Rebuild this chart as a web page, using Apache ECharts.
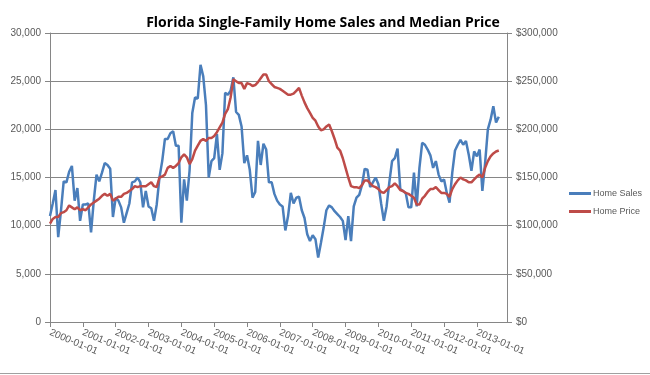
<!DOCTYPE html>
<html>
<head>
<meta charset="utf-8">
<script src="https://cdn.jsdelivr.net/npm/echarts@6/dist/echarts.min.js"></script>
<style>
  html, body { margin: 0; padding: 0; background: #fff; }
  #home-chart { width: 650px; height: 375px; }
</style>
</head>
<body>
<div id="home-chart"></div>
<script>
// years on the category axis (monthly points, Jan 2000 .. Dec 2013)
const years = [2000, 2001, 2002, 2003, 2004, 2005, 2006, 2007, 2008, 2009, 2010, 2011, 2012, 2013]
const monthCodes = ['01', '02', '03', '04', '05', '06', '07', '08', '09', '10', '11', '12']

// monthly single-family home sales, Jan 2000 .. Sep 2013
const homeSales = [
  11000, 12300, 13700, 8800, 11500, 14600, 14500, 15600, 16200, 12600, 13900, 10500,
  12200, 12200, 12300, 9300, 12600, 15300, 14600, 15500, 16500, 16300, 15900, 10900,
  12900, 12600, 11900, 10300, 11300, 12300, 14500, 14600, 15000, 14500, 11900, 13600,
  12000, 11800, 10500, 12200, 15000, 16700, 19000, 19000, 19600, 19800, 18300, 18300,
  10300, 14800, 12600, 15700, 21700, 23300, 23200, 26700, 25500, 22500, 15000, 16700,
  17000, 19500, 15800, 17500, 23800, 23600, 24000, 25400, 21800, 21500, 20300, 16500,
  17300, 15800, 12900, 13500, 18800, 16300, 18500, 17900, 14500, 14500, 13300, 12600,
  12200, 12000, 9500, 11000, 13400, 12300, 12900, 13000, 11600, 10800, 9100, 8400,
  9000, 8600, 6700, 8200, 9800, 11600, 12100, 11900, 11500, 11200, 10900, 10500,
  8500, 11000, 8400, 12000, 12900, 13200, 14200, 15900, 15800, 14000, 14500, 15000,
  14300, 12300, 10500, 12000, 14500, 16700, 17000, 18000, 13800, 13600, 13400, 11900,
  11900, 15500, 12000, 16000, 18600, 18400, 17900, 17300, 16000, 16700, 15300, 14600,
  14800, 13400, 12400, 15500, 17800, 18400, 18900, 18400, 18800, 17400, 15700, 17700,
  17200, 17900, 13600, 16500, 20000, 21000, 22400, 20700, 21300
]

// monthly median price
const homePrice = [
  102000, 107000, 109000, 109000, 113000, 114000, 116000, 121000, 119000, 117000, 119000, 116000,
  117000, 116000, 119000, 122000, 124000, 126000, 128000, 131000, 133000, 131000, 133000, 126000,
  128000, 130000, 130000, 133000, 134000, 136000, 138000, 141000, 140000, 141000, 141000, 141000,
  143000, 145000, 141000, 140000, 150000, 151000, 153000, 160000, 162000, 160000, 162000, 165000,
  171000, 174000, 171000, 164000, 169000, 178000, 183000, 188000, 190000, 188000, 191000, 191000,
  193000, 197000, 202000, 207000, 216000, 221000, 233000, 252000, 250000, 248000, 248000, 242000,
  248000, 247000, 245000, 246000, 249000, 253000, 257000, 257000, 250000, 247000, 244000, 243000,
  242000, 240000, 238000, 236000, 236000, 237000, 240000, 243000, 235000, 228000, 222000, 217000,
  212000, 209000, 203000, 199000, 200000, 203000, 205000, 198000, 190000, 181000, 178000, 170000,
  160000, 150000, 141000, 140000, 140000, 139000, 142000, 147000, 147000, 144000, 141000, 140000,
  138000, 135000, 134000, 137000, 140000, 141000, 144000, 141000, 137000, 136000, 134000, 133000,
  131000, 129000, 122000, 122000, 128000, 131000, 135000, 138000, 138000, 140000, 137000, 134000,
  134000, 133000, 130000, 138000, 143000, 147000, 150000, 148000, 147000, 145000, 145000, 148000,
  151000, 153000, 150000, 160000, 167000, 172000, 175000, 177000, 178000
]

const months = []
years.forEach(function (y) {
  monthCodes.forEach(function (m) {
    months.push(y + '-' + m + '-01')
  })
})

const axisGray = '#868686'
const labelGray = '#595959'

function withCommas(v) {
  return String(v).replace(/\B(?=(\d{3})+(?!\d))/g, ',')
}

let myChart = echarts.init(document.getElementById('home-chart'))
myChart.setOption({
  animation: false,
  backgroundColor: '#fff',
  title: {
    text: 'Florida Single-Family Home Sales and Median Price',
    left: 318,
    textAlign: 'center',
    top: 11,
    textStyle: {
      fontFamily: 'Open Sans',
      fontWeight: 'bold',
      fontSize: 14,
      color: '#000'
    }
  },
  legend: {
    orient: 'vertical',
    left: 569,
    top: 189,
    itemGap: 9,
    itemWidth: 22,
    itemHeight: 3,
    icon: 'rect',
    padding: 0,
    textStyle: { fontFamily: 'Liberation Sans', fontSize: 9, color: labelGray, padding: [0, 0, 0, -3] },
    data: ['Home Sales', 'Home Price']
  },
  grid: { left: 50, right: 143, top: 33, bottom: 53 },
  xAxis: {
    type: 'category',
    data: months,
    boundaryGap: false,
    axisLine: { lineStyle: { color: axisGray } },
    axisTick: { interval: 11, length: 5, lineStyle: { color: axisGray } },
    axisLabel: {
      interval: 11,
      rotate: -23,
      margin: 10,
      fontFamily: 'Liberation Sans',
      fontSize: 10,
      color: labelGray
    }
  },
  yAxis: [
    {
      type: 'value',
      min: 0,
      max: 30000,
      interval: 5000,
      axisLine: { show: true, lineStyle: { color: axisGray } },
      axisTick: { show: true, length: 5, lineStyle: { color: axisGray } },
      splitLine: { lineStyle: { color: axisGray } },
      axisLabel: {
        margin: 9,
        fontFamily: 'Liberation Sans',
        fontSize: 10,
        color: labelGray,
        formatter: withCommas
      }
    },
    {
      type: 'value',
      min: 0,
      max: 300000,
      interval: 50000,
      axisLine: { show: true, lineStyle: { color: axisGray } },
      axisTick: { show: true, length: 5, lineStyle: { color: axisGray } },
      splitLine: { show: false },
      axisLabel: {
        margin: 9,
        fontFamily: 'Liberation Sans',
        fontSize: 10,
        color: labelGray,
        formatter: function (v) { return '$' + withCommas(v) }
      }
    }
  ],
  series: [
    {
      name: 'Home Sales',
      type: 'line',
      yAxisIndex: 0,
      symbol: 'none',
      color: '#4A7EBB',
      lineStyle: { width: 2.5, color: '#4A7EBB' },
      data: homeSales
    },
    {
      name: 'Home Price',
      type: 'line',
      yAxisIndex: 1,
      symbol: 'none',
      color: '#BE4B48',
      lineStyle: { width: 2.5, color: '#BE4B48' },
      data: homePrice
    }
  ],
  graphic: [
    {
      type: 'line',
      shape: { x1: 0, y1: 373.5, x2: 650, y2: 373.5 },
      style: { stroke: '#a0a0a0', lineWidth: 1 }
    }
  ]
})
</script>
</body>
</html>
